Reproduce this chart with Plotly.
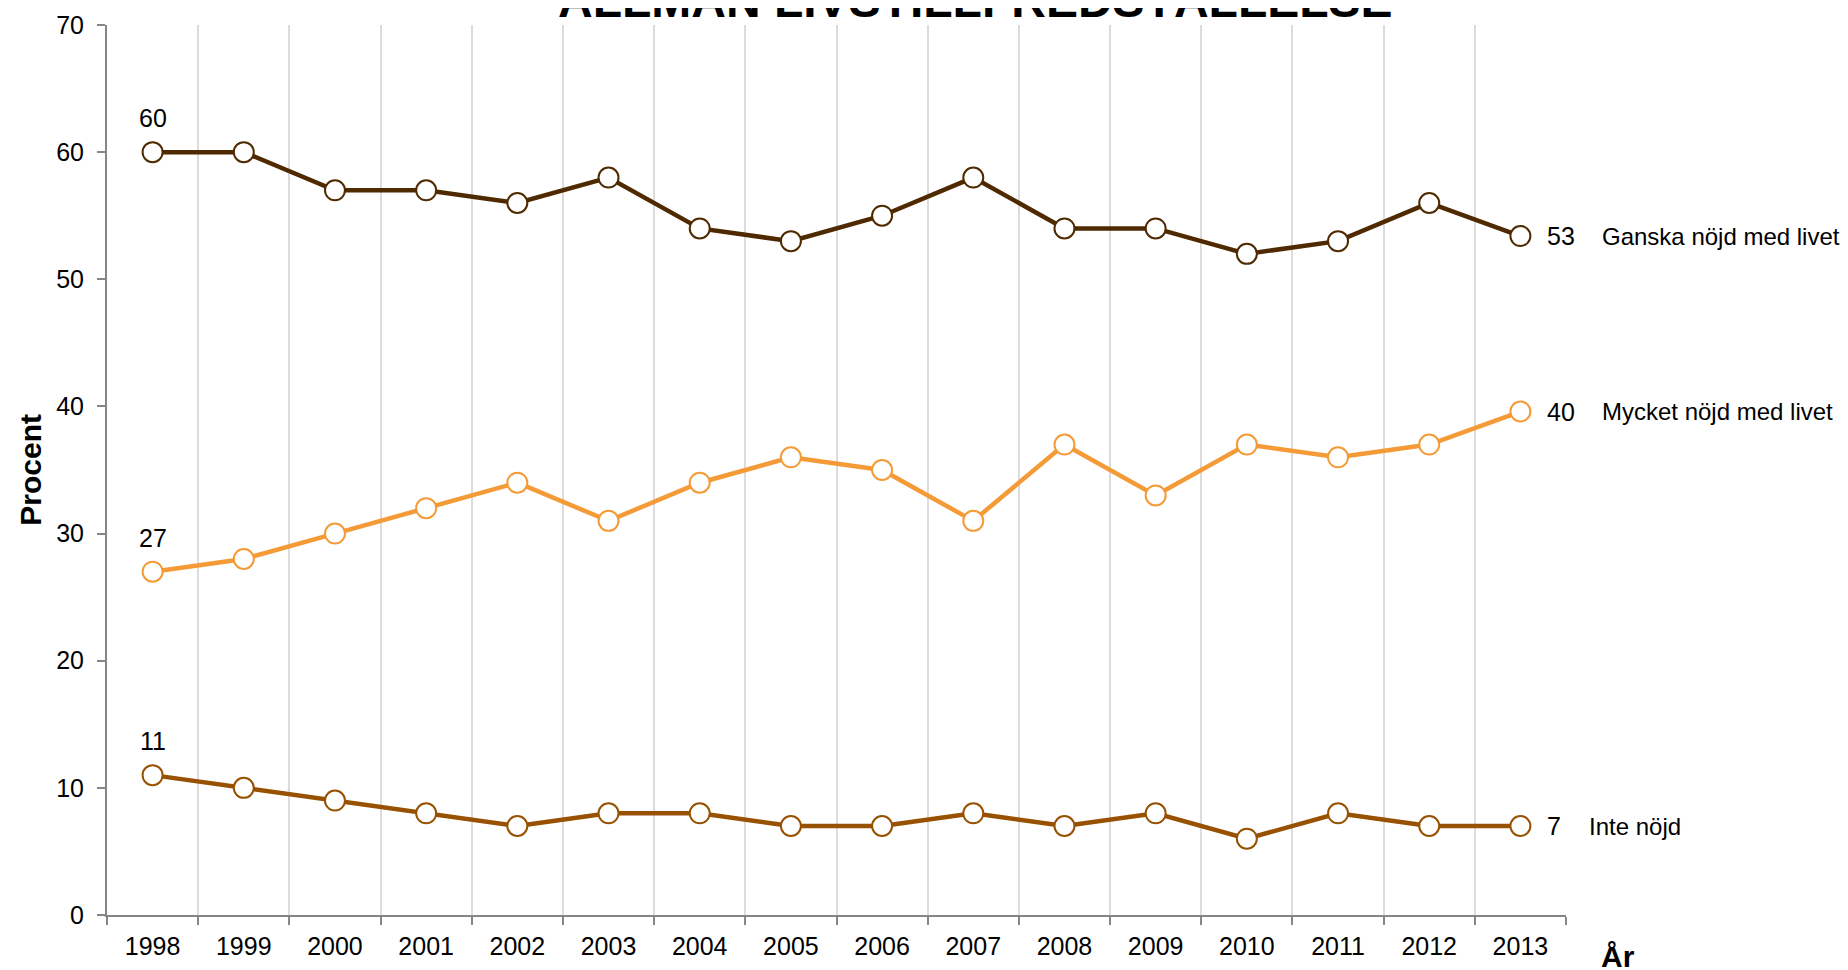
import plotly.graph_objects as go

years = ["1998", "1999", "2000", "2001", "2002", "2003", "2004", "2005",
         "2006", "2007", "2008", "2009", "2010", "2011", "2012", "2013"]
ganska = [60, 60, 57, 57, 56, 58, 54, 53, 55, 58, 54, 54, 52, 53, 56, 53.4]
mycket = [27, 28, 30, 32, 34, 31, 34, 36, 35, 31, 37, 33, 37, 36, 37, 39.6]
inte = [11, 10, 9, 8, 7, 8, 8, 7, 7, 8, 7, 8, 6, 8, 7, 7]
series_names = ["Ganska nöjd med livet", "Mycket nöjd med livet", "Inte nöjd"]
series_values = [ganska, mycket, inte]
series_colors = ["#4F2A00", "#F49B37", "#985100"]
title_text = "ALLMÄN LIVSTILLFREDSTÄLLELSE"

FONT = "Liberation Sans, Arial, sans-serif"

fig = go.Figure()
first_idx = 0
last_idx = len(years) - 1
for name, vals, col in zip(series_names, series_values, series_colors):
    fig.add_trace(go.Scatter(
        x=years, y=vals, mode="lines+markers", name=name,
        line=dict(color=col, width=4.5),
        marker=dict(size=20, color="white", line=dict(color=col, width=2)),
        cliponaxis=False, showlegend=False,
    ))
    # first value label above the first point
    fig.add_annotation(text=f"{vals[first_idx]:.0f}", xref="x", yref="y",
                       x=first_idx, y=vals[first_idx],
                       xanchor="center", yanchor="middle", yshift=34, showarrow=False,
                       font=dict(family=FONT, size=25, color="black"))
    # last value label right of the last point
    fig.add_annotation(text=f"{vals[last_idx]:.0f}", xref="x", yref="y",
                       x=last_idx, y=vals[last_idx],
                       xanchor="left", yanchor="middle", xshift=25, showarrow=False,
                       font=dict(family=FONT, size=25, color="black"))

name_x = [1.023, 1.023, 1.0142]
for name, vals, xp in zip(series_names, series_values, name_x):
    fig.add_annotation(text=name, xref="paper", yref="y", x=xp, y=vals[-1],
                       xanchor="left", yanchor="middle", showarrow=False,
                       font=dict(family=FONT, size=24, color="black"))

fig.add_annotation(text="<b>" + title_text + "</b>", xref="paper", yref="paper",
                   x=0.595, y=1.0, yshift=-4, xanchor="center", yanchor="bottom",
                   showarrow=False, font=dict(family=FONT, size=48, color="black"))
fig.add_annotation(text="<b>Procent</b>", xref="paper", yref="paper",
                   x=-0.053, y=0.5, xanchor="center", yanchor="middle", textangle=-90,
                   showarrow=False, font=dict(family=FONT, size=30, color="black"))
fig.add_annotation(text="<b>År</b>", xref="paper", yref="paper",
                   x=1.0356, y=-0.047, xanchor="center", yanchor="middle",
                   showarrow=False, font=dict(family=FONT, size=30, color="black"))

fig.update_layout(
    width=1848, height=970,
    margin=dict(l=99, r=290, t=17, b=63, autoexpand=False),
    paper_bgcolor="white", plot_bgcolor="white",
    font=dict(family=FONT, size=25, color="black"),
    xaxis=dict(type="category", tickson="boundaries", range=[-0.5, 15.5],
               showgrid=True, gridcolor="#DCDCDC", gridwidth=1.5,
               showline=True, linecolor="#868686", linewidth=2,
               ticks="outside", ticklen=8, tickcolor="#868686", tickwidth=2,
               tickfont=dict(size=25), zeroline=False, automargin=False,
               ticklabelstandoff=8),
    yaxis=dict(range=[0, 70], dtick=10, showgrid=False, zeroline=False,
               showline=True, linecolor="#868686", linewidth=2,
               ticks="outside", ticklen=8, tickcolor="#868686", tickwidth=2,
               tickfont=dict(size=25), ticklabelstandoff=8, automargin=False),
)

fig.write_html("out.html")
